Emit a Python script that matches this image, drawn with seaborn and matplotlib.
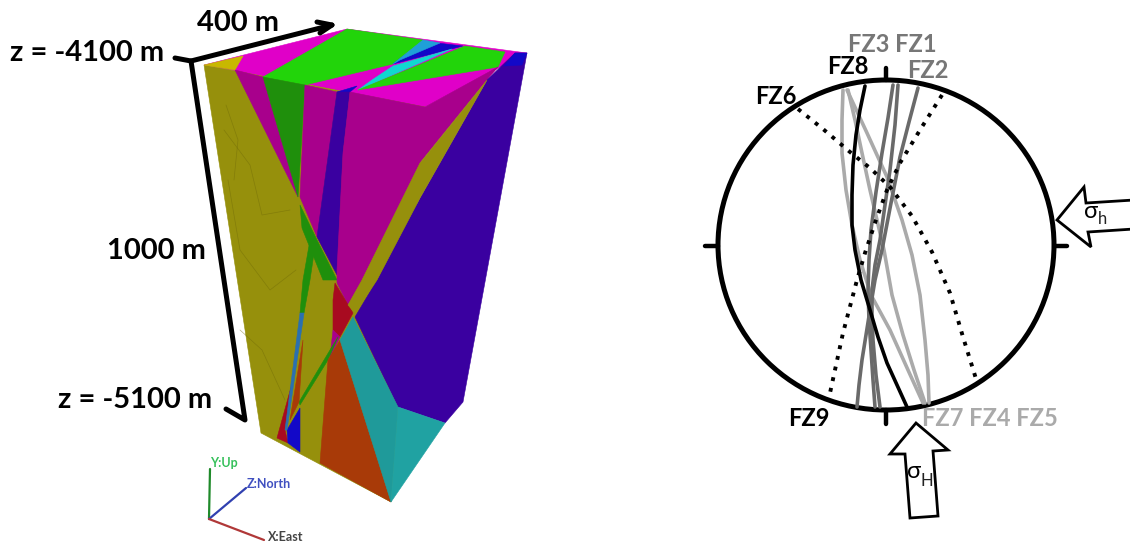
import numpy as np
import pandas as pd
import seaborn as sns
import matplotlib.pyplot as plt
from matplotlib.patches import Ellipse, Polygon

# everything in pixel coordinates (x, y from top left)
YELLOW = '#96900c'
MAGENTA = '#a8008c'
BRIGHT_MAGENTA = '#e000c8'
GREEN = '#1f8f0c'
BRIGHT_GREEN = '#22d40a'
BLUE = '#3a00a0'
PURE_BLUE = '#1208c8'
CYAN = '#1f9a9a'
BROWN = '#a83a08'
RED = '#a80a20'

# block faces, back to front
block_polys = [
    # base of each face so nothing shows through
    (BRIGHT_MAGENTA, [(204, 65), (347, 29), (527, 53), (425, 107)]),
    (YELLOW, [(204, 65), (425, 107), (391, 502), (261, 433)]),
    # top face
    ('#c8b800', [(204, 65), (243, 56), (235, 70)]),
    (BRIGHT_GREEN, [(263, 77), (347, 29), (423, 40), (393, 64), (305, 85)]),
    (PURE_BLUE, [(337, 92), (357, 86), (350, 92)]),
    (PURE_BLUE, [(437, 43), (463, 46), (393, 64), (405, 55)]),
    ('#1fa0d8', [(423, 40), (440, 43), (400, 60), (393, 64)]),
    ('#10d8d0', [(393, 66), (452, 49), (358, 90), (372, 80)]),
    (BRIGHT_GREEN, [(465, 46), (505, 52), (498, 67), (358, 90)]),
    # left face
    (MAGENTA, [(235, 70), (263, 77), (298, 197)]),
    (GREEN, [(263, 77), (305, 85), (298, 197)]),
    (MAGENTA, [(305, 85), (337, 92), (317, 237), (300, 197)]),
    (BLUE, [(337, 92), (350, 92), (343, 153), (337, 275), (317, 237)]),
    (GREEN, [(300, 205), (317, 240), (337, 280), (323, 280), (302, 228)]),
    (GREEN, [(316, 240), (310, 280), (304, 313), (300, 313), (303, 280), (310, 240)]),
    (MAGENTA, [(350, 92), (425, 107), (498, 67), (487, 80), (420, 163), (362, 280), (348, 305), (337, 283), (337, 270), (343, 153)]),
    (RED, [(335, 283), (353, 313), (340, 337), (333, 330), (333, 300)]),
    (MAGENTA, [(333, 330), (340, 337), (330, 357)]),
    (GREEN, [(338, 337), (328, 360), (300, 405), (299, 402), (330, 350)]),
    (BROWN, [(340, 340), (391, 502), (320, 463), (328, 360)]),
    (RED, [(277, 438), (288, 443), (285, 430), (293, 380)]),
    (PURE_BLUE, [(300, 408), (300, 452), (288, 443), (287, 430)]),
    ('#2a70b0', [(304, 313), (300, 313), (285, 430), (287, 430)]),
    (BROWN, [(303, 340), (299, 402), (290, 420)]),
    # right face
    (BLUE, [(515, 53), (527, 53), (463, 402), (445, 423), (398, 407), (355, 317), (377, 280), (420, 198), (487, 80)]),
    (PURE_BLUE, [(515, 53), (527, 53), (522, 65), (504, 66)]),
    (YELLOW, [(487, 80), (420, 198), (377, 280), (355, 313), (348, 305), (362, 280), (420, 163)]),
    (CYAN, [(353, 317), (398, 407), (391, 502), (340, 340)]),
    ('#20a2a2', [(398, 407), (445, 423), (391, 502)]),
]

# a few mesh edges on the yellow face
mesh_x = [[224, 250, 262, 290], [228, 240, 270, 296], [240, 262, 285], [226, 238, 234]]
mesh_y = [[130, 165, 215, 210], [180, 250, 290, 270], [330, 350, 400], [105, 140, 180]]

# axis triad at the bottom left
triad_x = {'up': [209, 210], 'north': [209, 246], 'east': [209, 264]}
triad_y = {'up': [519, 469], 'north': [519, 488], 'east': [519, 540]}
triad_colors = {'up': '#1f8a2a', 'north': '#3040b0', 'east': '#b03838'}

# black scale lines
scale_x = [175, 191, 245, 226]
scale_y = [58, 61, 420, 409]
top_x = [191, 332]
top_y = [61, 25]
top_head_x = [317, 332, 320]
top_head_y = [22, 25, 33]

# fault traces on the stereonet
fz1_x = [898, 895, 890, 885, 880, 875, 872, 872, 873, 876, 880]
fz1_y = [85, 125, 170, 205, 240, 265, 290, 315, 340, 375, 407]
fz2_x = [918, 909, 900, 891, 882, 875, 870, 866, 862, 859, 857]
fz2_y = [88, 122, 157, 203, 250, 280, 310, 335, 360, 385, 407]
fz3_x = [893, 888, 882, 876, 871, 869, 868, 869, 871, 873, 875]
fz3_y = [85, 118, 153, 192, 230, 260, 290, 320, 350, 380, 407]
fz4_x = [848, 855, 862, 870, 877, 884, 892, 903, 914, 925]
fz4_y = [90, 120, 153, 190, 220, 250, 295, 335, 370, 403]
fz5_x = [847, 867, 887, 902, 912, 920, 925, 928, 929]
fz5_y = [90, 133, 177, 220, 255, 295, 340, 375, 403]
fz6_x = [798, 823, 850, 870, 890, 912, 932, 950, 963, 977]
fz6_y = [109, 129, 152, 168, 187, 216, 252, 293, 337, 382]
fz7_x = [843, 842, 842, 846, 852, 860, 871, 890, 908, 923]
fz7_y = [90, 120, 153, 190, 225, 260, 295, 330, 370, 403]
fz8_x = [865, 860, 856, 853, 852, 852, 855, 861, 870, 878, 887, 897, 907]
fz8_y = [86, 110, 135, 165, 195, 225, 250, 280, 310, 337, 363, 385, 407]
fz9_x = [942, 920, 900, 887, 876, 865, 857, 843, 830]
fz9_y = [95, 130, 163, 190, 220, 253, 280, 333, 393]

fault_styles = [
    (fz4_x, fz4_y, '#aaaaaa', '-', 2.6),
    (fz5_x, fz5_y, '#aaaaaa', '-', 2.6),
    (fz7_x, fz7_y, '#aaaaaa', '-', 2.6),
    (fz1_x, fz1_y, '#6a6a6a', '-', 2.6),
    (fz2_x, fz2_y, '#6a6a6a', '-', 2.6),
    (fz3_x, fz3_y, '#6a6a6a', '-', 2.6),
    (fz6_x, fz6_y, 'black', (0, (1, 1.8)), 2.8),
    (fz9_x, fz9_y, 'black', (0, (1, 1.8)), 2.8),
    (fz8_x, fz8_y, 'black', '-', 2.6),
]

arrow_h = [(916, 423), (948, 450), (933, 451), (938, 516), (910, 518), (905, 454), (890, 454)]
arrow_v = [(1057, 220), (1084, 187), (1086, 203), (1134, 200), (1134, 229), (1088, 232), (1091, 247)]

sns.set_style('white')
plt.rcParams['font.family'] = ['Lato', 'DejaVu Sans']

fig, ax = plt.subplots(figsize=(11.30, 5.43), dpi=100)
ax.set_position([0, 0, 1, 1])
ax.set_xlim(0, 1130)
ax.set_ylim(543, 0)
ax.axis('off')

for color, pts in block_polys:
    ax.add_patch(Polygon(pts, closed=True, facecolor=color, edgecolor=color, linewidth=0.4))

for mx, my in zip(mesh_x, mesh_y):
    ax.plot(mx, my, color='#6f6a08', lw=0.5, alpha=0.5)

def draw_line(x, y, color, ls='-', lw=3.0):
    df = pd.DataFrame({'x': x, 'y': y})
    l = sns.lineplot(data=df, x='x', y='y', sort=False, estimator=None, color=color, lw=lw, ax=ax)
    l.lines[-1].set_linestyle(ls)
    l.lines[-1].set_solid_capstyle('round')
    l.lines[-1].set_solid_joinstyle('round')

for k in triad_x:
    draw_line(triad_x[k], triad_y[k], triad_colors[k], lw=1.6)

draw_line(scale_x, scale_y, 'black', lw=3.6)
draw_line(top_x, top_y, 'black', lw=3.6)
draw_line(top_head_x, top_head_y, 'black', lw=3.6)

for x, y, c, ls, lw in fault_styles:
    draw_line(x, y, c, ls, lw)

# stereonet circle and its ticks
ax.add_patch(Ellipse((886, 245), 336, 330, fill=False, edgecolor='black', lw=3.6))
draw_line([886, 886], [68, 80], 'black', lw=3.2)
draw_line([886, 886], [410, 424], 'black', lw=3.2)
draw_line([705, 718], [246, 246], 'black', lw=3.2)
draw_line([1055, 1067], [246, 246], 'black', lw=3.2)

ax.add_patch(Polygon(arrow_h, closed=True, facecolor='white', edgecolor='black', lw=2))
ax.add_patch(Polygon(arrow_v, closed=True, facecolor='white', edgecolor='black', lw=2))

bold = dict(fontweight='bold', fontsize=21, va='center', ha='left', color='black')
ax.text(10, 53, 'z = -4100 m', **bold)
ax.text(197, 23, '400 m', **bold)
ax.text(107, 251, '1000 m', **bold)
ax.text(58, 400, 'z = -5100 m', **bold)

lab = dict(fontweight='bold', fontsize=17, va='center', ha='left')
ax.text(848, 44, 'FZ3 FZ1', color='#777777', **lab)
ax.text(907, 71, 'FZ2', color='#777777', **lab)
ax.text(827, 67, 'FZ8', color='black', **lab)
ax.text(755, 96, 'FZ6', color='black', **lab)
ax.text(788, 419, 'FZ9', color='black', **lab)
ax.text(922, 419, 'FZ7 FZ4 FZ5', color='#aaaaaa', **lab)

ax.text(907, 472, 'σ', fontsize=17, va='center', ha='left', color='black')
ax.text(921, 481, 'H', fontsize=12, va='center', ha='left', color='#222222')
ax.text(1084, 211, 'σ', fontsize=17, va='center', ha='left', color='black')
ax.text(1098, 219, 'h', fontsize=12, va='center', ha='left', color='#222222')

tri = dict(fontweight='bold', fontsize=9, va='center', ha='left')
ax.text(210, 463, 'Y:Up', color='#35c05a', **tri)
ax.text(247, 484, 'Z:North', color='#4050c0', **tri)
ax.text(268, 537, 'X:East', color='#444444', **tri)

fig.savefig('out.png', dpi=100)
